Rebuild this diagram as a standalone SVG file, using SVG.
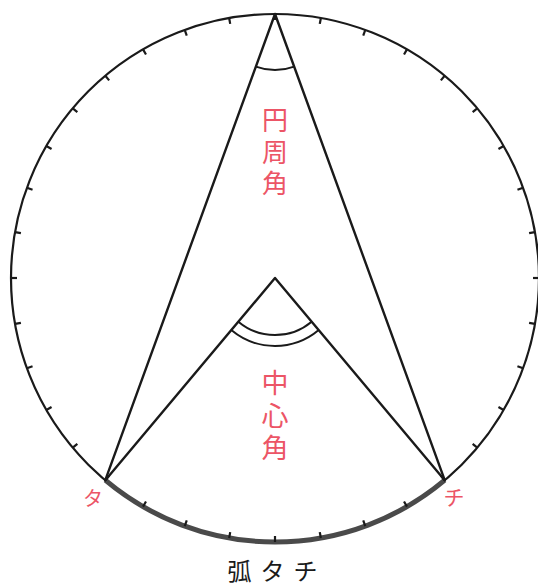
<svg xmlns="http://www.w3.org/2000/svg" xmlns:xlink="http://www.w3.org/1999/xlink" width="538" height="588" viewBox="0 0 538 588">
  <style>
    .line { fill: none; stroke: #1a1a1a; stroke-width: 2.4; stroke-linecap: round; stroke-linejoin: round; }
    .arc { fill: none; stroke: #1a1a1a; stroke-width: 2; }
    .tick { stroke: #1a1a1a; stroke-width: 2.2; }
    .red { fill: #ec5566; font-family: "Noto Sans CJK JP", "Noto Sans CJK SC", sans-serif; text-anchor: middle; }
    .blk { fill: #1a1a1a; font-family: "Noto Sans CJK JP", "Noto Sans CJK SC", sans-serif; text-anchor: middle; }
  </style>
  <defs>
    <line id="t" class="tick" x1="275" y1="14" x2="275" y2="20"/>
  </defs>
  <rect width="538" height="588" fill="#ffffff"/>
  <g id="circle">
    <circle cx="275" cy="278" r="264" fill="none" stroke="#1a1a1a" stroke-width="2.2"/>
    <path d="M105.3 480.2 A264 264 0 0 0 444.7 480.2" fill="none" stroke="#4a4a4a" stroke-width="5"/>
  </g>
  <g id="ticks">
    <use xlink:href="#t" transform="rotate(0 275 278)"/>
    <use xlink:href="#t" transform="rotate(10 275 278)"/>
    <use xlink:href="#t" transform="rotate(20 275 278)"/>
    <use xlink:href="#t" transform="rotate(30 275 278)"/>
    <use xlink:href="#t" transform="rotate(40 275 278)"/>
    <use xlink:href="#t" transform="rotate(50 275 278)"/>
    <use xlink:href="#t" transform="rotate(60 275 278)"/>
    <use xlink:href="#t" transform="rotate(70 275 278)"/>
    <use xlink:href="#t" transform="rotate(80 275 278)"/>
    <use xlink:href="#t" transform="rotate(90 275 278)"/>
    <use xlink:href="#t" transform="rotate(100 275 278)"/>
    <use xlink:href="#t" transform="rotate(110 275 278)"/>
    <use xlink:href="#t" transform="rotate(120 275 278)"/>
    <use xlink:href="#t" transform="rotate(130 275 278)"/>
    <use xlink:href="#t" transform="rotate(140 275 278)"/>
    <use xlink:href="#t" transform="rotate(150 275 278)"/>
    <use xlink:href="#t" transform="rotate(160 275 278)"/>
    <use xlink:href="#t" transform="rotate(170 275 278)"/>
    <use xlink:href="#t" transform="rotate(180 275 278)"/>
    <use xlink:href="#t" transform="rotate(190 275 278)"/>
    <use xlink:href="#t" transform="rotate(200 275 278)"/>
    <use xlink:href="#t" transform="rotate(210 275 278)"/>
    <use xlink:href="#t" transform="rotate(220 275 278)"/>
    <use xlink:href="#t" transform="rotate(230 275 278)"/>
    <use xlink:href="#t" transform="rotate(240 275 278)"/>
    <use xlink:href="#t" transform="rotate(250 275 278)"/>
    <use xlink:href="#t" transform="rotate(260 275 278)"/>
    <use xlink:href="#t" transform="rotate(270 275 278)"/>
    <use xlink:href="#t" transform="rotate(280 275 278)"/>
    <use xlink:href="#t" transform="rotate(290 275 278)"/>
    <use xlink:href="#t" transform="rotate(300 275 278)"/>
    <use xlink:href="#t" transform="rotate(310 275 278)"/>
    <use xlink:href="#t" transform="rotate(320 275 278)"/>
    <use xlink:href="#t" transform="rotate(330 275 278)"/>
    <use xlink:href="#t" transform="rotate(340 275 278)"/>
    <use xlink:href="#t" transform="rotate(350 275 278)"/>
  </g>
  <g id="connectors">
    <path class="line" d="M105.3 480.2 L275 14 L444.7 480.2"/>
    <path class="line" d="M105.3 480.2 L275 278 L444.7 480.2"/>
    <path class="arc" d="M255.85 66.62 A56 56 0 0 0 294.15 66.62"/>
    <path class="arc" d="M238.36 321.66 A57 57 0 0 0 311.64 321.66"/>
    <path class="arc" d="M231.29 330.09 A68 68 0 0 0 318.71 330.09"/>
  </g>
  <g id="label-inscribed">
    <text class="red" font-size="26"><tspan x="275" y="130">円</tspan><tspan x="275" y="162">周</tspan><tspan x="275" y="193">角</tspan></text>
  </g>
  <g id="label-central">
    <text class="red" font-size="27"><tspan x="275" y="393">中</tspan><tspan x="275" y="426">心</tspan><tspan x="275" y="458">角</tspan></text>
  </g>
  <g id="label-ta">
    <text class="red" font-size="20" x="93" y="506">タ</text>
  </g>
  <g id="label-chi">
    <text class="red" font-size="21" x="454" y="505">チ</text>
  </g>
  <g id="label-arc">
    <text class="blk" font-size="24" letter-spacing="9" x="277" y="580">弧タチ</text>
  </g>
</svg>
